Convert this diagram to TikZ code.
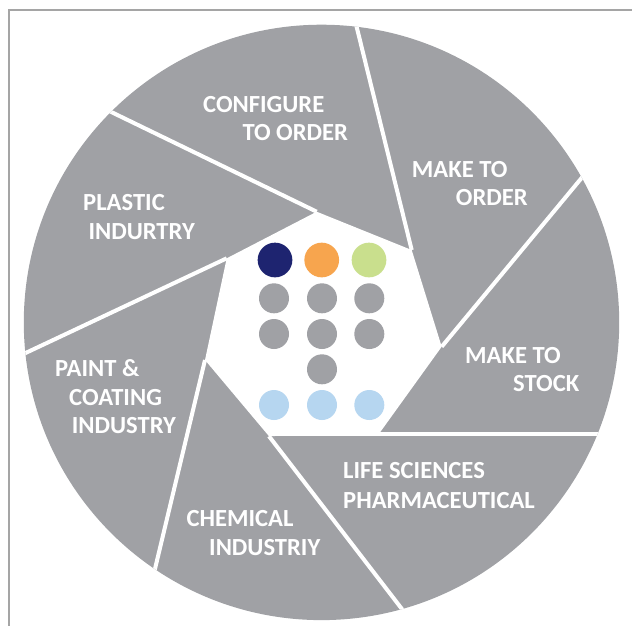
\documentclass[tikz,border=0pt]{standalone}
\usepackage{fontspec}
\setmainfont{Carlito}
\usetikzlibrary{calc}
\definecolor{bladegray}{RGB}{160,161,165}
\definecolor{framegray}{RGB}{165,165,165}
\definecolor{dotnavy}{RGB}{30,36,112}
\definecolor{dotorange}{RGB}{247,165,78}
\definecolor{dotgreen}{RGB}{201,223,141}
\definecolor{dotblue}{RGB}{182,214,240}
\begin{document}
\begin{tikzpicture}[x=1pt,y=-1pt,
  lbl/.style={text=white,font=\fontsize{24.6}{28}\selectfont\bfseries,anchor=base west,inner sep=0pt},
  sepline/.style={white,line width=4pt},
  bigdot/.style={circle,inner sep=0pt,minimum size=34.7pt},
  smalldot/.style={circle,inner sep=0pt,minimum size=30pt},
  graydot/.style={smalldot,fill=bladegray},
  bluedot/.style={smalldot,fill=dotblue}]
\useasboundingbox (0,0) rectangle (632,625);
\draw[framegray,line width=2pt] (9.3,626) -- (9.3,10.3) -- (633,10.3);
\coordinate (C) at (321.5,322.4);
\fill[bladegray] (C) circle (297.7);
% outer ends of the separating lines
\coordinate (O1) at (112.9,112.8);
\coordinate (O2) at (356.7,27.1);
\coordinate (O3) at (580.4,179.4);
\coordinate (O4) at (595.7,434.3);
\coordinate (O5) at (401.0,607.8);
\coordinate (O6) at (155.2,568.0);
\coordinate (O7) at (26.2,352.7);
% corners of the white centre
\coordinate (V1) at (316.7,211.7);
\coordinate (V2) at (411.7,250.0);
\coordinate (V3) at (441.7,346.7);
\coordinate (V4) at (380.0,432.4);
\coordinate (V5) at (269.0,436.2);
\coordinate (V6) at (205.0,360.0);
\coordinate (V7) at (226.7,258.3);
\coordinate (V4b) at (269.0,434.3);
\fill[white] (V1) -- (V2) -- (V3) -- (V4) -- (V5) -- (V6) -- (V7) -- cycle;
\begin{scope}
  \clip (C) circle (297.7);
  \foreach \k in {1,2,3,5,6,7}
    \draw[sepline] (V\k) -- ($(V\k)!1.2!(O\k)$);
  \draw[sepline] (V4b) -- ($(V4b)!1.2!(O4)$);
\end{scope}
% dots
\node[bigdot,fill=dotnavy] (d11) at (275,260) {};
\node[bigdot,fill=dotorange] (d12) at (321.7,260) {};
\node[bigdot,fill=dotgreen] (d13) at (369,260) {};
\node[graydot] (d21) at (274,298.3) {};
\node[graydot] (d22) at (322,298.3) {};
\node[graydot] (d23) at (369.3,298.3) {};
\node[graydot] (d31) at (274,334) {};
\node[graydot] (d32) at (322,334) {};
\node[graydot] (d33) at (369.3,334) {};
\node[graydot] (d42) at (322,369.3) {};
\node[bluedot] (d51) at (274,405) {};
\node[bluedot] (d52) at (322,405) {};
\node[bluedot] (d53) at (369.3,405) {};
% labels
\node[lbl] (t1a) at (203,112.3) {CONFIGURE};
\node[lbl] (t1b) at (242.3,140) {TO ORDER};
\node[lbl] (t2a) at (411.7,177.3) {MAKE TO};
\node[lbl] (t2b) at (455.7,205) {ORDER};
\node[lbl] (t3a) at (83,210.7) {PLASTIC};
\node[lbl] (t3b) at (88.3,239.3) {INDURTRY};
\node[lbl] (t4a) at (465,363.3) {MAKE TO};
\node[lbl] (t4b) at (513,391.7) {STOCK};
\node[lbl] (t5a) at (55,376.7) {PAINT \&};
\node[lbl] (t5b) at (69,405) {COATING};
\node[lbl] (t5c) at (71.7,433.3) {INDUSTRY};
\node[lbl] (t6a) at (343,478.3) {LIFE SCIENCES};
\node[lbl] (t6b) at (343,508.3) {PHARMACEUTICAL};
\node[lbl] (t7a) at (186.3,526.7) {CHEMICAL};
\node[lbl] (t7b) at (209,555) {INDUSTRIY};
\end{tikzpicture}
\end{document}
